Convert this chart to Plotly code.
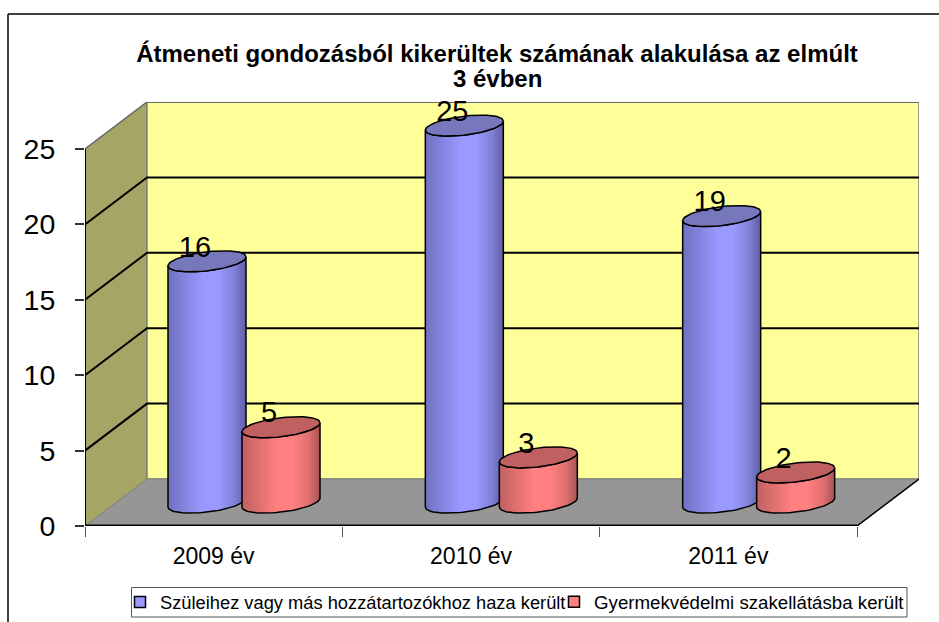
import numpy as np
import plotly.graph_objects as go

categories = ["2009 év", "2010 év", "2011 év"]
series_names = ["Szüleihez vagy más hozzátartozókhoz haza került",
                "Gyermekvédelmi szakellátásba került"]
home_values = [16, 25, 19]
care_values = [5, 3, 2]
y_ticks = [0, 5, 10, 15, 20, 25]
title_line1 = "<b>Átmeneti gondozásból kikerültek számának alakulása az elmúlt</b>"
title_line2 = "<b>3 évben</b>"

W, H = 939, 622
X0, X1F, X1B = 85, 857, 919     # front-left, front-right, back-right px
Y0, Y25, YB = 526, 149, 102
PX = (X1F - X0) / 3.0
PY = (Y0 - Y25) / 25.0
DX = (X1B - X1F) / PX           # depth offset in axis units
DY = (Y25 - YB) / PY
XMAX = 3 + DX
YMAX = 25 + DY
PW, PH = X1B - X0, Y0 - YB

def px(x):
    return (x - X0) / PW

def py(y):
    return (Y0 - y) / PH

fig = go.Figure()

def poly(xs, ys, color, line=None, width=0):
    fig.add_trace(go.Scatter(x=xs, y=ys, mode="lines", fill="toself", fillcolor=color,
                             line=dict(color=line or color, width=width),
                             hoverinfo="skip", showlegend=False))

def seg(xs, ys, color="#000000", width=2):
    fig.add_trace(go.Scatter(x=xs, y=ys, mode="lines", line=dict(color=color, width=width),
                             hoverinfo="skip", showlegend=False, cliponaxis=False))

# walls and floor
poly([0, DX, DX, 0, 0], [0, DY, 25 + DY, 25, 0], "#A5A565", "#808080", 1)
poly([DX, XMAX, XMAX, DX, DX], [DY, DY, YMAX, YMAX, DY], "#FFFF99", "#808080", 1.5)
poly([0, 3, XMAX, DX, 0], [0, 0, DY, DY, 0], "#969696", "#808080", 1)
for v in y_ticks[1:-1]:
    seg([0, DX, XMAX], [v, v + DY, v + DY], "#000000", 2)
seg([DX, XMAX], [YMAX, YMAX], "#6a6a6a", 2)
seg([0, DX], [25, YMAX], "#6a6a6a", 1.5)
seg([0, 0], [0, 25], "#000000", 2)
seg([0, 3], [0, 0], "#000000", 3)
seg([3, XMAX], [0, DY], "#000000", 1.5)
for v in y_ticks:
    seg([-9 / PX, 0], [v, v], "#333333", 1.5)

A = 39 / PX
B = 9.5 / PY
SHEAR = 4.5 / PY
BASE = 1.55
t_low = np.linspace(np.pi, 0, 40)
t_all = np.linspace(0, 2 * np.pi, 80)

def cylinder(cx, v, edge_l, soft, mid, edge_r, top):
    bx = cx + A * np.cos(t_low)
    by = BASE - B * np.sin(t_low) + SHEAR * np.cos(t_low)
    tx = bx[::-1]
    ty = v + BASE - B * np.sin(t_low[::-1]) + SHEAR * np.cos(t_low[::-1])
    fig.add_trace(go.Scatter(
        x=np.r_[bx, tx, bx[0]], y=np.r_[by, ty, by[0]], mode="lines", fill="toself",
        fillgradient=dict(type="horizontal",
                          colorscale=[[0, edge_l], [0.45, mid], [0.65, mid], [0.85, soft], [1, edge_r]]),
        line=dict(color="#000000", width=1.5), hoverinfo="skip", showlegend=False))
    ex = cx + A * np.cos(t_all)
    ey = v + BASE + B * np.sin(t_all) + SHEAR * np.cos(t_all)
    poly(ex, ey, top, "#000000", 1.5)

centers_home = [i + (207 - X0 - 128.67) / PX + 0.5 for i in range(3)]
centers_care = [c + 74 / PX for c in centers_home]
for i in range(3):
    cylinder(centers_home[i], home_values[i], "#7070C0", "#8080D8", "#9999FF", "#5F5FA6", "#7777BB")
    cylinder(centers_care[i], care_values[i], "#C06060", "#E07070", "#FF8080", "#A65353", "#C06060")

# data labels
for cs, vs in ((centers_home, home_values), (centers_care, care_values)):
    fig.add_trace(go.Scatter(x=[c - 12 / PX for c in cs], y=[v + BASE + 12 / PY for v in vs],
                             mode="text", text=[str(v) for v in vs],
                             textposition="middle center",
                             textfont=dict(size=29, color="#000000"),
                             hoverinfo="skip", showlegend=False, cliponaxis=False))

# legend entries, one legend per series inside a common box
for name, col, lg in zip(series_names, ("#9999FF", "#FF8080"), ("legend", "legend2")):
    fig.add_trace(go.Scatter(x=[None], y=[None], mode="markers", name=name, legend=lg,
                             marker=dict(symbol="square", size=11, color=col,
                                         line=dict(color="#000000", width=1.5))))

fig.update_layout(
    width=W, height=H, autosize=False,
    margin=dict(l=X0, r=W - X1B, t=YB, b=H - Y0, autoexpand=False),
    paper_bgcolor="#ffffff", plot_bgcolor="rgba(0,0,0,0)",
    font=dict(family="Liberation Sans", color="#000000"),
    title=dict(text=title_line1, x=497 / W, xanchor="center", y=1 - 45 / H, yanchor="top",
               font=dict(size=24, color="#000000")),
    annotations=[dict(text=title_line2, xref="paper", yref="paper", x=px(497), y=py(79),
                      xanchor="center", yanchor="middle", showarrow=False,
                      font=dict(size=24, color="#000000"))],
    xaxis=dict(range=[0, XMAX], tickmode="array", tickvals=[0.5, 1.5, 2.5], ticktext=categories,
               showgrid=False, zeroline=False, showline=False, ticks="", ticklabelstandoff=14,
               tickfont=dict(size=23),
               minor=dict(tickmode="array", tickvals=[0, 1, 2, 3], ticks="outside", ticklen=10,
                          tickcolor="#555555", tickwidth=1, showgrid=False)),
    yaxis=dict(range=[0, YMAX], tickmode="array", tickvals=y_ticks, showgrid=False,
               zeroline=False, showline=False, ticks="outside", ticklen=9, tickcolor="#333333",
               tickwidth=1.5, tickfont=dict(size=28.5), ticklabelstandoff=14),
    legend=dict(x=px(120), xanchor="left", y=py(602), yanchor="middle",
                bgcolor="rgba(0,0,0,0)", borderwidth=0, font=dict(size=18.3, color="#000000")),
    legend2=dict(x=px(554), xanchor="left", y=py(602), yanchor="middle",
                 bgcolor="rgba(0,0,0,0)", borderwidth=0, font=dict(size=18.7, color="#000000")),
    shapes=[dict(type="line", xref="paper", yref="paper", x0=px(8), x1=px(939),
                 y0=py(14), y1=py(14), line=dict(color="#000000", width=1.5)),
            dict(type="line", xref="paper", yref="paper", x0=px(8), x1=px(8),
                 y0=py(14), y1=py(622), line=dict(color="#000000", width=1.5)),
            dict(type="rect", xref="paper", yref="paper", x0=px(131.5), x1=px(907),
                 y0=py(587.5), y1=py(617), line=dict(color="#555555", width=1),
                 fillcolor="#ffffff")],
)
fig.write_html("out.html", config=dict(displayModeBar=False),
               post_script="document.body.style.margin='0';")
